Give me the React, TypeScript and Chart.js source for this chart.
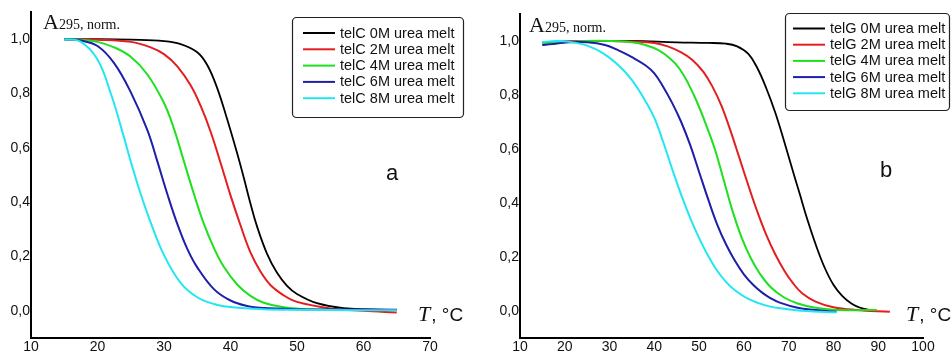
import React, { useEffect, useRef } from 'react';
import { Chart, registerables } from 'chart.js';

Chart.register(...registerables);

// ---------- data: panel a (telC) ----------
const C_LABELS = ['telC 0M urea melt', 'telC 2M urea melt', 'telC 4M urea melt', 'telC 6M urea melt', 'telC 8M urea melt'];
const C0_T = [15, 20, 25, 30, 32.5, 35, 36.5, 38, 39.5, 41, 42, 43, 44, 45.5, 47, 48.5, 50, 53, 57, 65];
const C0_A = [1.0, 1.0, 0.998, 0.993, 0.982, 0.952, 0.905, 0.82, 0.705, 0.58, 0.49, 0.395, 0.31, 0.21, 0.14, 0.092, 0.062, 0.028, 0.01, 0.003];
const C2_T = [15, 20, 25, 28, 30, 32, 34, 35.5, 37, 38.5, 40, 41.5, 43, 44.5, 46, 48, 50, 55, 60, 65];
const C2_A = [1.0, 0.998, 0.99, 0.97, 0.945, 0.9, 0.83, 0.755, 0.66, 0.545, 0.425, 0.315, 0.215, 0.145, 0.095, 0.057, 0.033, 0.009, 0.0, -0.006];
const C4_T = [15, 17.5, 20, 22.5, 25, 27.5, 30, 31.5, 33, 34.5, 36, 37.5, 39, 41, 43, 45, 48, 52, 58, 65];
const C4_A = [1.0, 0.998, 0.99, 0.97, 0.935, 0.87, 0.765, 0.67, 0.55, 0.43, 0.32, 0.232, 0.162, 0.097, 0.055, 0.03, 0.013, 0.005, 0.003, 0.003];
const C6_T = [15, 17.5, 20, 22.5, 25, 27.5, 29, 30.5, 32, 33.5, 35, 37.5, 40, 42.5, 45, 50, 55, 65];
const C6_A = [1.0, 0.995, 0.975, 0.912, 0.805, 0.665, 0.55, 0.43, 0.32, 0.228, 0.16, 0.08, 0.038, 0.018, 0.01, 0.006, 0.005, 0.004];
const C8_T = [15, 17.5, 20, 22, 23.5, 25, 26.5, 28, 30, 32.5, 35, 37.5, 40, 45, 50, 55, 65];
const C8_A = [1.0, 0.99, 0.925, 0.8, 0.68, 0.55, 0.43, 0.325, 0.205, 0.103, 0.05, 0.025, 0.014, 0.006, 0.004, 0.003, 0.002];

// ---------- data: panel b (telG) ----------
const G_LABELS = ['telG 0M urea melt', 'telG 2M urea melt', 'telG 4M urea melt', 'telG 6M urea melt', 'telG 8M urea melt'];
const G0_T = [15, 25, 35, 45, 52, 56, 58.5, 61, 63, 65, 67, 69, 71, 72.5, 74, 76, 78, 80, 82, 84, 86, 88.3];
const G0_A = [0.995, 1.0, 1.0, 0.995, 0.993, 0.99, 0.98, 0.952, 0.9, 0.825, 0.735, 0.628, 0.515, 0.432, 0.348, 0.248, 0.162, 0.097, 0.055, 0.028, 0.012, 0.003];
const G2_T = [15, 20, 25, 30, 35, 40, 43, 46, 48.5, 51, 53, 55, 57, 59, 61, 63, 65, 67, 69, 71, 73, 76, 80, 85, 92.6];
const G2_A = [0.985, 0.998, 1.0, 1.0, 0.998, 0.993, 0.98, 0.958, 0.93, 0.885, 0.83, 0.76, 0.668, 0.567, 0.465, 0.368, 0.282, 0.21, 0.15, 0.102, 0.066, 0.035, 0.014, 0.004, -0.003];
const G4_T = [15, 20, 25, 30, 35, 38, 41, 43.5, 45.5, 47.5, 49.5, 51.5, 53.5, 55.5, 57.5, 59.5, 61.5, 63.5, 66, 69, 72, 76, 80, 85, 89.7];
const G4_A = [0.99, 0.995, 1.0, 1.0, 0.995, 0.985, 0.965, 0.935, 0.9, 0.845, 0.775, 0.692, 0.6, 0.485, 0.368, 0.272, 0.197, 0.14, 0.088, 0.05, 0.028, 0.012, 0.005, 0.003, 0.004];
const G6_T = [15, 18, 21, 25, 29, 32, 35, 38, 40, 42, 44, 46, 48, 50, 52, 54, 56, 58, 60, 62, 64, 66, 68, 72, 76, 80.7];
const G6_A = [0.985, 0.99, 0.995, 0.995, 0.985, 0.965, 0.94, 0.91, 0.88, 0.83, 0.77, 0.7, 0.615, 0.515, 0.415, 0.322, 0.247, 0.186, 0.136, 0.098, 0.069, 0.047, 0.031, 0.012, 0.004, -0.003];
const G8_T = [15, 18, 21, 25, 28.5, 32, 35, 38, 40, 42, 44, 46, 48, 50, 52, 54, 56, 58, 61, 65, 69, 73, 77, 80.7];
const G8_A = [0.995, 1.0, 0.997, 0.983, 0.955, 0.91, 0.855, 0.778, 0.715, 0.625, 0.525, 0.43, 0.345, 0.27, 0.205, 0.15, 0.108, 0.077, 0.045, 0.02, 0.008, 0.001, -0.003, -0.005];

const Y_TICKS = [0, 0.2, 0.4, 0.6, 0.8, 1.0];
const Y_TICK_LABELS = ['0,0', '0,2', '0,4', '0,6', '0,8', '1,0'];

const COLORS = ['#000000', '#e41e1e', '#1ee01e', '#1e1eaa', '#22e6f2'];

const SANS = '"Liberation Sans", Arial, sans-serif';
const SERIF = '"Liberation Serif", "Times New Roman", serif';

type PanelCfg = {
  left: number;
  width: number;
  height: number;
  xMin: number;
  xMax: number;
  yAxisW: number;
  xAxisH: number;
  padTop: number;
  padRight: number;
  series: { t: number[]; a: number[] }[];
  labels: string[];
  legendBox: { x: number; y: number; w: number; h: number };
  legendRow0: number;
  legendRowStep: number;
  legendLineX: number;
  aLabel: { x: number; y: number };
  letter: { text: string; x: number; y: number };
  tLabel: { x: number; y: number };
};

function Panel({ cfg }: { cfg: PanelCfg }) {
  const ref = useRef<HTMLCanvasElement | null>(null);
  useEffect(() => {
    const canvas = ref.current;
    if (!canvas) return;
    const overlay = {
      id: 'overlay',
      afterDraw(chart: any) {
        const ctx = chart.ctx as CanvasRenderingContext2D;
        ctx.save();
        ctx.fillStyle = '#111';
        ctx.textBaseline = 'alphabetic';
        ctx.textAlign = 'left';
        ctx.font = `22px ${SERIF}`;
        ctx.fillText('A', cfg.aLabel.x, cfg.aLabel.y);
        const wA = ctx.measureText('A').width;
        ctx.font = `14px ${SERIF}`;
        ctx.fillText('295, norm.', cfg.aLabel.x + wA, cfg.aLabel.y);
        ctx.font = `italic 22px ${SERIF}`;
        ctx.fillText('T', cfg.tLabel.x, cfg.tLabel.y);
        const wT = ctx.measureText('T').width;
        ctx.font = `19px ${SANS}`;
        ctx.fillText(', °C', cfg.tLabel.x + wT + 1, cfg.tLabel.y);
        ctx.font = `22px ${SANS}`;
        ctx.fillText(cfg.letter.text, cfg.letter.x, cfg.letter.y);
        const b = cfg.legendBox;
        ctx.fillStyle = '#ffffff';
        ctx.strokeStyle = '#222';
        ctx.lineWidth = 1.2;
        ctx.beginPath();
        (ctx as any).roundRect(b.x + 0.5, b.y + 0.5, b.w, b.h, 4);
        ctx.fill();
        ctx.stroke();
        ctx.font = `14.5px ${SANS}`;
        ctx.textBaseline = 'middle';
        cfg.labels.forEach((lab, i) => {
          const y = cfg.legendRow0 + i * cfg.legendRowStep;
          ctx.strokeStyle = COLORS[i];
          ctx.lineWidth = 2;
          ctx.beginPath();
          ctx.moveTo(cfg.legendLineX, y);
          ctx.lineTo(cfg.legendLineX + 32, y);
          ctx.stroke();
          ctx.fillStyle = '#111';
          ctx.fillText(lab, cfg.legendLineX + 37, y + 0.5);
        });
        ctx.restore();
      },
    };
    const chart = new Chart(canvas, {
      type: 'line',
      data: {
        datasets: cfg.series.map((s, i) => ({
          label: cfg.labels[i],
          data: s.t.map((t, j) => ({ x: t, y: s.a[j] })),
          borderColor: COLORS[i],
          backgroundColor: COLORS[i],
          borderWidth: i === 0 ? 1.8 : 2,
          pointRadius: 0,
          fill: false,
          tension: 0.4,
          order: 4 - i,
        })),
      },
      options: {
        animation: false,
        responsive: false,
        maintainAspectRatio: false,
        layout: { padding: { top: cfg.padTop, right: cfg.padRight, left: 0, bottom: 0 } },
        plugins: { legend: { display: false }, tooltip: { enabled: false } },
        scales: {
          x: {
            type: 'linear',
            min: cfg.xMin,
            max: cfg.xMax,
            ticks: {
              stepSize: 10,
              autoSkip: false,
              maxRotation: 0,
              padding: 1,
              color: '#111',
              font: { family: SANS, size: 14 },
            },
            grid: { display: false, drawTicks: false },
            border: { display: true, color: '#000', width: 2 },
            afterFit: (s: any) => {
              s.height = cfg.xAxisH;
            },
          },
          y: {
            type: 'linear',
            min: -0.1,
            max: 1.1,
            afterBuildTicks: (s: any) => {
              s.ticks = Y_TICKS.map((v) => ({ value: v }));
            },
            ticks: {
              padding: 1,
              color: '#111',
              font: { family: SANS, size: 14 },
              callback: (v: any) => {
                const idx = Y_TICKS.findIndex((t) => Math.abs(t - Number(v)) < 1e-6);
                return idx >= 0 ? Y_TICK_LABELS[idx] : '';
              },
            },
            grid: { display: false, drawTicks: false },
            border: { display: true, color: '#000', width: 2 },
            afterFit: (s: any) => {
              s.width = cfg.yAxisW;
            },
          },
        },
      } as any,
      plugins: [overlay],
    });
    return () => chart.destroy();
  }, [cfg]);
  return (
    <canvas
      ref={ref}
      width={cfg.width}
      height={cfg.height}
      style={{ position: 'absolute', left: cfg.left, top: 0, width: cfg.width, height: cfg.height }}
    />
  );
}

const PANEL_A: PanelCfg = {
  left: 0,
  width: 476,
  height: 365,
  xMin: 10,
  xMax: 70,
  yAxisW: 31,
  xAxisH: 27,
  padTop: 12,
  padRight: 46,
  series: [
    { t: C0_T, a: C0_A },
    { t: C2_T, a: C2_A },
    { t: C4_T, a: C4_A },
    { t: C6_T, a: C6_A },
    { t: C8_T, a: C8_A },
  ],
  labels: C_LABELS,
  legendBox: { x: 292, y: 17, w: 171, h: 100 },
  legendRow0: 33,
  legendRowStep: 16.3,
  legendLineX: 303,
  aLabel: { x: 43, y: 29 },
  letter: { text: 'a', x: 386, y: 180 },
  tLabel: { x: 418, y: 321 },
};

const PANEL_B: PanelCfg = {
  left: 476,
  width: 475,
  height: 365,
  xMin: 10,
  xMax: 100,
  yAxisW: 44,
  xAxisH: 27,
  padTop: 14,
  padRight: 28,
  series: [
    { t: G0_T, a: G0_A },
    { t: G2_T, a: G2_A },
    { t: G4_T, a: G4_A },
    { t: G6_T, a: G6_A },
    { t: G8_T, a: G8_A },
  ],
  labels: G_LABELS,
  legendBox: { x: 309, y: 13, w: 164, h: 97 },
  legendRow0: 28.5,
  legendRowStep: 16.2,
  legendLineX: 317,
  aLabel: { x: 53, y: 32 },
  letter: { text: 'b', x: 404, y: 177 },
  tLabel: { x: 430, y: 321 },
};

export default function App() {
  return (
    <div style={{ position: 'absolute', left: 0, top: 0, width: 951, height: 351, overflow: 'hidden', background: '#fff' }}>
      <Panel cfg={PANEL_A} />
      <Panel cfg={PANEL_B} />
    </div>
  );
}
